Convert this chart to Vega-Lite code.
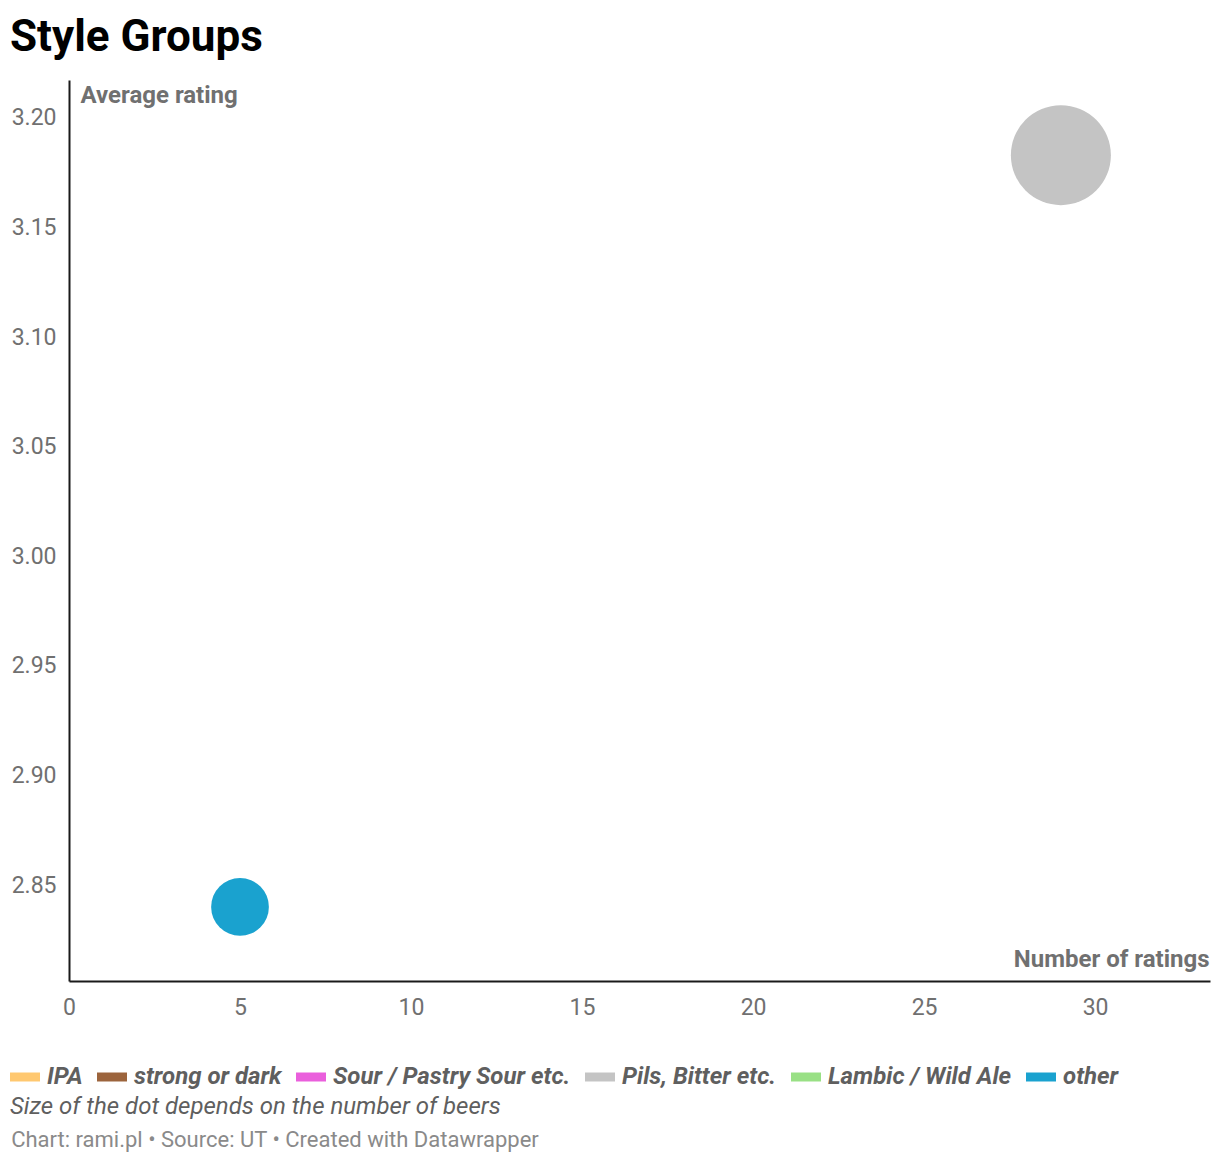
{
  "$schema": "https://vega.github.io/schema/vega-lite/v6.json",
  "autosize": {"type": "pad"},
  "padding": {"left": 10, "right": 10, "top": 16, "bottom": 10},
  "background": "white",
  "config": {
    "font": "Roboto",
    "view": {"stroke": null},
    "concat": {"spacing": 0}
  },
  "title": {
    "text": "Style Groups",
    "anchor": "start",
    "fontSize": 44,
    "fontWeight": "bold",
    "color": "#000000",
    "font": "Roboto",
    "offset": 20
  },
  "datasets": {
    "groups": [
      {"group": "Pils, Bitter etc.", "ratings": 29, "avg": 3.183, "beers": 9},
      {"group": "other", "ratings": 5, "avg": 2.84, "beers": 3}
    ]
  },
  "vconcat": [
    {
      "width": 1141,
      "height": 901,
      "data": {"name": "groups"},
      "title": {
        "text": "Chart: rami.pl • Source: UT • Created with Datawrapper",
        "orient": "bottom",
        "anchor": "start",
        "fontSize": 22,
        "fontWeight": "normal",
        "color": "#8a8a8a",
        "offset": 111
      },
      "mark": {"type": "circle", "opacity": 1},
      "encoding": {
        "x": {
          "field": "ratings",
          "type": "quantitative",
          "scale": {"domain": [0, 33.36], "nice": false, "zero": false},
          "axis": {
            "values": [0, 5, 10, 15, 20, 25, 30],
            "grid": false,
            "ticks": false,
            "labelFlush": false,
            "domainColor": "#1a1a1a",
            "domainWidth": 2,
            "labelFontSize": 23,
            "labelColor": "#707070",
            "labelPadding": 15,
            "title": "Number of ratings",
            "titleFontSize": 24,
            "titleFontWeight": "bold",
            "titleColor": "#707070",
            "titleAlign": "right",
            "titleBaseline": "alphabetic",
            "titleAnchor": "end",
            "titleX": 1140,
            "titleY": -15
          }
        },
        "y": {
          "field": "avg",
          "type": "quantitative",
          "scale": {"domain": [2.8062, 3.2173], "nice": false, "zero": false},
          "axis": {
            "values": [2.85, 2.9, 2.95, 3.0, 3.05, 3.1, 3.15, 3.2],
            "format": ".2f",
            "grid": false,
            "ticks": false,
            "domainColor": "#1a1a1a",
            "domainWidth": 2,
            "labelFontSize": 23,
            "labelColor": "#707070",
            "labelPadding": 13,
            "title": "Average rating",
            "titleAngle": 0,
            "titleFontSize": 24,
            "titleFontWeight": "bold",
            "titleColor": "#707070",
            "titleAlign": "left",
            "titleBaseline": "alphabetic",
            "titleX": 11,
            "titleY": 22
          }
        },
        "size": {
          "field": "beers",
          "type": "quantitative",
          "scale": {"domain": [0, 9], "range": [0, 10000], "zero": true},
          "legend": null
        },
        "color": {
          "field": "group",
          "type": "nominal",
          "scale": {
            "domain": ["IPA", "strong or dark", "Sour / Pastry Sour etc.", "Pils, Bitter etc.", "Lambic / Wild Ale", "other"],
            "range": ["#ffc870", "#9c643c", "#ea5fdc", "#c4c4c4", "#99e085", "#1aa2cf"]
          },
          "legend": {
            "orient": "none",
            "legendX": -59,
            "legendY": 982,
            "direction": "horizontal",
            "columns": 6,
            "padding": 0,
            "columnPadding": 14,
            "symbolType": "M-1,-0.3H1V0.3H-1Z",
            "symbolSize": 900,
            "symbolOpacity": 1,
            "symbolStrokeWidth": 0,
            "labelFont": "Roboto",
            "labelFontSize": 24,
            "labelFontWeight": "bold",
            "labelFontStyle": "italic",
            "labelColor": "#5f5f5f",
            "labelOffset": 7,
            "labelLimit": 400,
            "title": "Size of the dot depends on the number of beers",
            "titleOrient": "bottom",
            "titleAnchor": "start",
            "titleFontSize": 24,
            "titleFontWeight": "normal",
            "titleFontStyle": "italic",
            "titleColor": "#5f5f5f",
            "titlePadding": 6,
            "titleLimit": 1200
          }
        }
      }
    }
  ]
}
